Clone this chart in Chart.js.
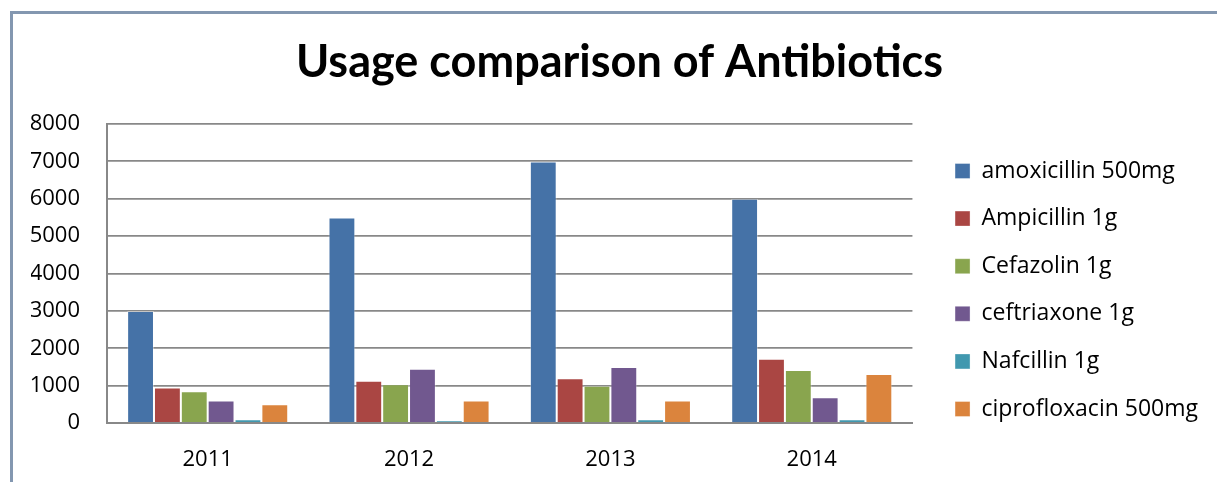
<!DOCTYPE html>
<html>
<head>
<meta charset="utf-8">
<script src="https://cdn.jsdelivr.net/npm/chart.js@4/dist/chart.umd.min.js"></script>
<style>
body{margin:0;background:#fff;overflow:hidden;}
#frame{position:absolute;left:10px;top:11px;width:1300px;height:600px;border-left:3px solid #8397b0;border-top:3px solid #8397b0;}
#wrap{position:absolute;left:0;top:0;width:1217px;height:482px;}
</style>
</head>
<body>
<div id="frame"></div>
<div id="wrap"><canvas id="myChart" width="1217" height="482"></canvas></div>
<script>
// 数据
var years=['2011','2012','2013','2014'];
var amoxicillin=[3000,5500,7000,6000];
var ampicillin=[950,1130,1200,1720];
var cefazolin=[850,1040,1000,1420];
var ceftriaxone=[600,1450,1500,690];
var nafcillin=[100,70,100,100];
var ciprofloxacin=[500,600,600,1310];
var yTicks=[0,1000,2000,3000,4000,5000,6000,7000,8000];

var titleFont="Lato, sans-serif";
var textFont="'Open Sans', sans-serif";

function ds(label,data,color){
	return {label:label,data:data,backgroundColor:color,borderColor:'rgba(255,255,255,0.35)',borderWidth:1};
}

//图例和绘图区之间留空
var legendGap={
	id:'legendGap',
	afterInit:function(chart){
		var lg=chart.legend;
		var fit=lg.fit;
		lg.fit=function(){
			fit.call(this);
			this.width+=18;
		};
	},
	afterLayout:function(chart){
		chart.legend.left+=18;
	}
};

var ctx=document.getElementById("myChart");
var myBarChart=new Chart(ctx,{
	type:'bar',
	data:{
		labels:years,
		datasets:[
			ds('amoxicillin 500mg',amoxicillin,'#4572a7'),
			ds('Ampicillin 1g',ampicillin,'#aa4643'),
			ds('Cefazolin 1g',cefazolin,'#89a54e'),
			ds('ceftriaxone 1g',ceftriaxone,'#71588f'),
			ds('Nafcillin 1g',nafcillin,'#4198af'),
			ds('ciprofloxacin 500mg',ciprofloxacin,'#db843d')
		]
	},
	options:{
		responsive:false,
		animation:false,
		categoryPercentage:0.8,
		barPercentage:1.0,
		layout:{padding:{left:31,right:9,top:0,bottom:0}},
		plugins:{
			title:{
				display:true,
				text:'Usage comparison of Antibiotics',
				color:'#000',
				font:{family:titleFont,size:45,weight:'bold'},
				padding:{top:35,bottom:35}
			},
			legend:{
				position:'right',
				title:{display:true,text:' ',font:{size:10},padding:{top:43,bottom:43}},
				labels:{
					color:'#000',
					font:{family:textFont,size:23},
					boxWidth:15,
					boxHeight:15,
					padding:24.6
				}
			},
			tooltip:{enabled:false}
		},
		scales:{
			x:{
				grid:{display:false,drawTicks:false},
				border:{color:'#888',width:2},
				ticks:{color:'#000',font:{family:textFont,size:22},padding:24},
				afterFit:function(scale){scale.height=59;}
			},
			y:{
				min:0,
				max:8000,
				afterBuildTicks:function(axis){
					axis.ticks=yTicks.map(function(v){return {value:v};});
				},
				grid:{color:'#888',lineWidth:1.8,drawTicks:false},
				border:{color:'#888',width:2},
				ticks:{color:'#000',font:{family:textFont,size:22},padding:27,
					callback:function(v){return String(v);}},
				afterFit:function(scale){scale.width=76;}
			}
		}
	},
	plugins:[legendGap]
});
</script>
</body>
</html>
